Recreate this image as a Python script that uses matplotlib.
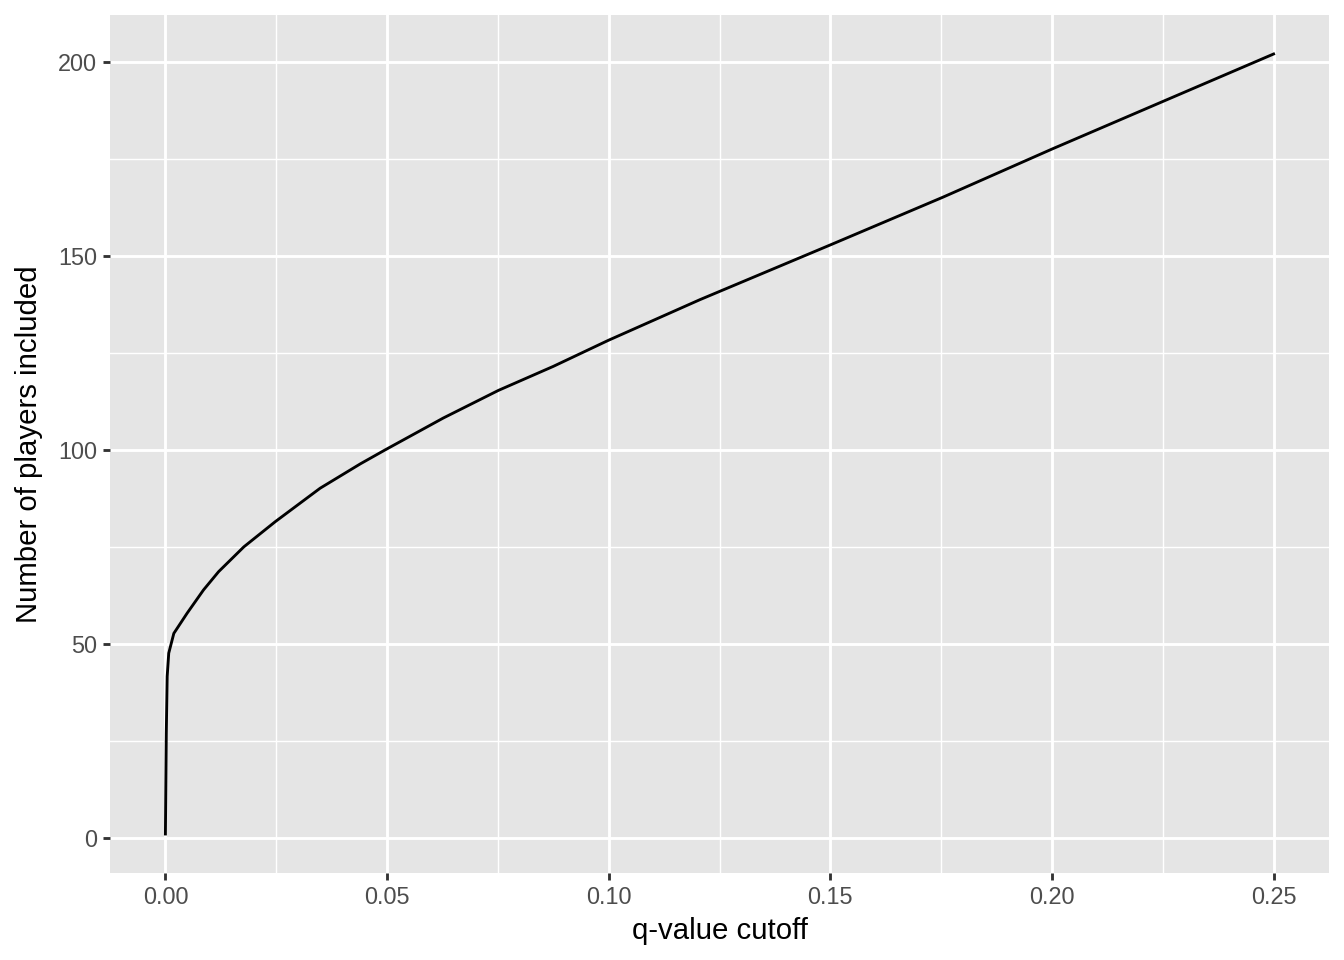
import matplotlib
matplotlib.use("Agg")
import matplotlib.pyplot as plt

# valores (q-value cutoff vs nº de jogadores)
q_cutoff = [0.0, 0.0002, 0.0004, 0.00075, 0.0019, 0.0049, 0.0086, 0.0120,
            0.0177, 0.0248, 0.0349, 0.0440, 0.0496, 0.0627,
            0.0751, 0.0875, 0.0999, 0.1206, 0.1500, 0.1754, 0.2000, 0.2259,
            0.2500]
n_players = [1, 27, 41.6, 47.6, 52.7, 57.9, 63.9, 68.6,
             75.0, 81.5, 90.1, 96.4, 100.0, 108.2,
             115.3, 121.5, 128.2, 138.7, 152.8, 165.1, 177.5, 190.2,
             202]

x_ticks = [0.00, 0.05, 0.10, 0.15, 0.20, 0.25]
x_labels = ["0.00", "0.05", "0.10", "0.15", "0.20", "0.25"]
y_ticks = [0, 50, 100, 150, 200]

plt.rcParams["font.family"] = ["Liberation Sans", "DejaVu Sans"]

fig = plt.figure(figsize=(7, 5), dpi=192)
ax = fig.add_axes([110 / 1344, 1 - 873 / 960, (1329 - 110) / 1344, (873 - 15) / 960])
ax.set_facecolor("#E5E5E5")

ax.plot(q_cutoff, n_players, color="black", lw=1.07, zorder=3)

# limites com expansão de 5% (estilo ggplot)
xr = max(q_cutoff) - min(q_cutoff)
yr = max(n_players) - min(n_players)
ax.set_xlim(min(q_cutoff) - 0.05 * xr, max(q_cutoff) + 0.05 * xr)
ax.set_ylim(min(n_players) - 0.05 * yr, max(n_players) + 0.05 * yr)

ax.set_xticks(x_ticks)
ax.set_xticklabels(x_labels)
ax.set_yticks(y_ticks)
ax.set_xticks([0.025, 0.075, 0.125, 0.175, 0.225], minor=True)
ax.set_yticks([25, 75, 125, 175], minor=True)

ax.grid(which="major", color="white", lw=1.07)
ax.grid(which="minor", color="white", lw=0.53)
ax.set_axisbelow(True)
for s in ax.spines.values():
    s.set_visible(False)

ax.tick_params(which="major", length=2.75, width=1.07, color="#333333",
               labelsize=8.8, labelcolor="#4D4D4D", pad=2.2)
ax.tick_params(which="minor", length=0)

ax.set_xlabel("q-value cutoff", fontsize=11, color="black", labelpad=2.75)
ax.set_ylabel("Number of players included", fontsize=11, color="black", labelpad=5.5)

fig.savefig("out.png", dpi=192, facecolor="white")
